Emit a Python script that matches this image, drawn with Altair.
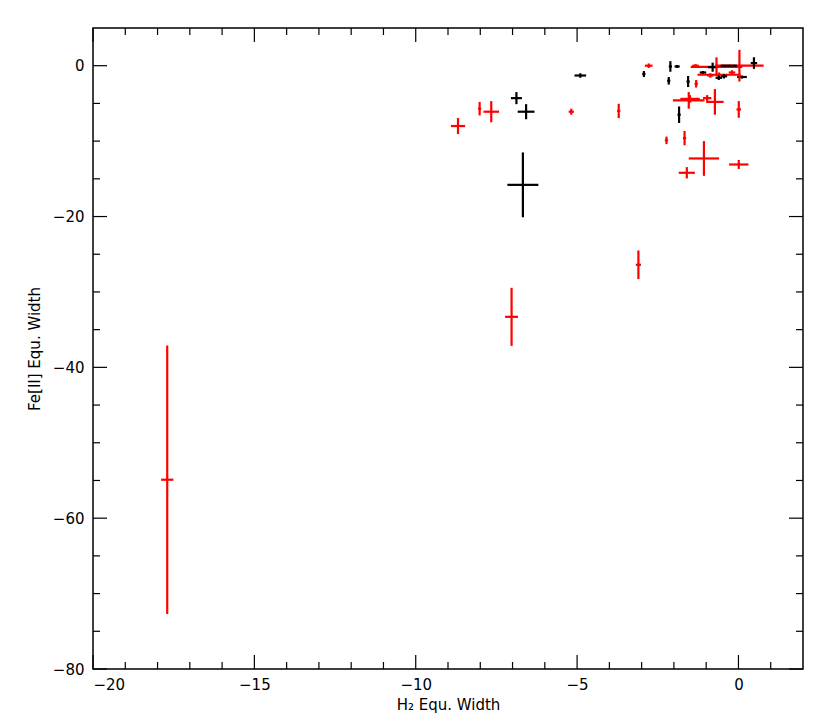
import altair as alt
import pandas as pd

# ---- data ----
red_x    = [-17.7, -7.03, -3.1, -8.69, -8.02, -7.66, -5.18, -3.71, -2.78, -2.23, -1.67, -1.6, -1.07, 0.01, 0.01,
            -1.54, -1.5, -0.97, -0.73, -1.31, -1.33, -0.68, 0.03, -0.6, -0.2, -0.87]
red_y    = [-54.9, -33.3, -26.4, -8.0, -5.7, -6.1, -6.1, -6.0, 0.0, -9.9, -9.6, -14.2, -12.3, -13.1, -5.8,
            -4.6, -4.4, -4.3, -4.8, -2.4, 0.0, -0.15, 0.0, -1.2, -0.9, -1.3]
red_xerr = [0.19, 0.2, 0.08, 0.22, 0.05, 0.24, 0.08, 0.05, 0.12, 0.05, 0.05, 0.25, 0.47, 0.3, 0.07,
            0.49, 0.3, 0.13, 0.27, 0.05, 0.1, 0.8, 0.75, 0.67, 0.1, 0.1]
red_yerr = [17.8, 3.85, 1.9, 1.06, 0.9, 1.4, 0.4, 0.95, 0.3, 0.5, 0.95, 0.75, 2.3, 0.6, 1.1,
            1.1, 0.5, 0.4, 1.7, 0.5, 0.2, 1.26, 2.1, 0.3, 0.3, 0.3]

black_x    = [-6.68, -6.88, -6.58, -4.9, -2.93, -2.11, -1.9, -2.16, -1.56, -1.84, -0.8, -1.1, -0.61, -0.45,
              -0.3, 0.11, 0.48]
black_y    = [-15.8, -4.3, -6.1, -1.3, -1.1, -0.1, -0.1, -2.0, -2.1, -6.5, -0.2, -0.9, -1.6, -1.4,
              0.0, -1.5, 0.35]
black_xerr = [0.48, 0.17, 0.26, 0.18, 0.05, 0.05, 0.08, 0.05, 0.05, 0.05, 0.15, 0.1, 0.1, 0.1,
              0.25, 0.15, 0.1]
black_yerr = [4.3, 0.8, 1.0, 0.3, 0.4, 0.7, 0.2, 0.5, 0.73, 1.1, 0.6, 0.2, 0.3, 0.3,
              0.1, 0.2, 0.77]

x_major = [-20, -15, -10, -5, 0]
x_minor = [-19, -18, -17, -16, -14, -13, -12, -11, -9, -8, -7, -6, -4, -3, -2, -1, 1]
y_major = [-80, -60, -40, -20, 0]
y_minor = [-75, -70, -65, -55, -50, -45, -35, -30, -25, -15, -10, -5]

X_DOMAIN = [-20, 2]
Y_DOMAIN = [-80, 5]

W, H = 710, 641
MAJ, MIN = 14, 7
FONT = "DejaVu Sans"

df = pd.DataFrame({
    "x": red_x + black_x,
    "y": red_y + black_y,
    "xerr": red_xerr + black_xerr,
    "yerr": red_yerr + black_yerr,
    "group": ["red"] * len(red_x) + ["black"] * len(black_x),
})

xs = alt.Scale(domain=X_DOMAIN, nice=False, zero=False)
ys = alt.Scale(domain=Y_DOMAIN, nice=False, zero=False)
col = alt.Color("group:N", scale=alt.Scale(domain=["red", "black"], range=["#ff0000", "#000000"]), legend=None)

X_AXIS = alt.Axis(values=x_major, tickSize=0, domain=False, grid=False, labelFont=FONT, labelFontSize=15,
                  labelColor="black", labelPadding=8, title="H₂ Equ. Width", titleFont=FONT, titleFontSize=15,
                  titleFontWeight="normal", titleColor="black", titlePadding=5)
Y_AXIS = alt.Axis(values=y_major, tickSize=0, domain=False, grid=False, labelFont=FONT, labelFontSize=15,
                  labelColor="black", labelPadding=9, title="Fe[II] Equ. Width", titleFont=FONT, titleFontSize=15,
                  titleFontWeight="normal", titleColor="black", titlePadding=10)

base = alt.Chart(df).transform_calculate(
    xlo="datum.x - datum.xerr", xhi="datum.x + datum.xerr",
    ylo="datum.y - datum.yerr", yhi="datum.y + datum.yerr",
)

hbar = base.mark_rule(strokeWidth=2.2).encode(
    x=alt.X("xlo:Q", scale=xs, axis=X_AXIS),
    x2="xhi:Q",
    y=alt.Y("y:Q", scale=ys, axis=Y_AXIS),
    color=col,
)
vbar = base.mark_rule(strokeWidth=2.2).encode(
    x=alt.X("x:Q", scale=xs, axis=X_AXIS),
    y=alt.Y("ylo:Q", scale=ys, axis=Y_AXIS),
    y2="yhi:Q",
    color=col,
)

def xticks(vals, length):
    d = pd.DataFrame({"x": vals})
    bottom = alt.Chart(d).mark_rule(color="black", strokeWidth=1.2).encode(
        x=alt.X("x:Q", scale=xs, axis=X_AXIS), y=alt.value(H), y2=alt.value(H - length))
    top = alt.Chart(d).mark_rule(color="black", strokeWidth=1.2).encode(
        x=alt.X("x:Q", scale=xs, axis=X_AXIS), y=alt.value(0), y2=alt.value(length))
    return [bottom, top]

def yticks(vals, length):
    d = pd.DataFrame({"y": vals})
    left = alt.Chart(d).mark_rule(color="black", strokeWidth=1.2).encode(
        y=alt.Y("y:Q", scale=ys, axis=Y_AXIS), x=alt.value(0), x2=alt.value(length))
    right = alt.Chart(d).mark_rule(color="black", strokeWidth=1.2).encode(
        y=alt.Y("y:Q", scale=ys, axis=Y_AXIS), x=alt.value(W), x2=alt.value(W - length))
    return [left, right]

layers = [hbar, vbar] + xticks(x_major, MAJ) + xticks(x_minor, MIN) + yticks(y_major, MAJ) + yticks(y_minor, MIN)

chart = alt.layer(*layers).properties(
    width=W, height=H,
    autosize=alt.AutoSizeParams(type="none"),
    padding={"left": 85, "top": 20, "right": 12, "bottom": 50},
    background="white",
).configure_view(stroke="black", strokeWidth=1.5)

chart.save("out.html", embed_options={"renderer": "svg", "actions": False})
